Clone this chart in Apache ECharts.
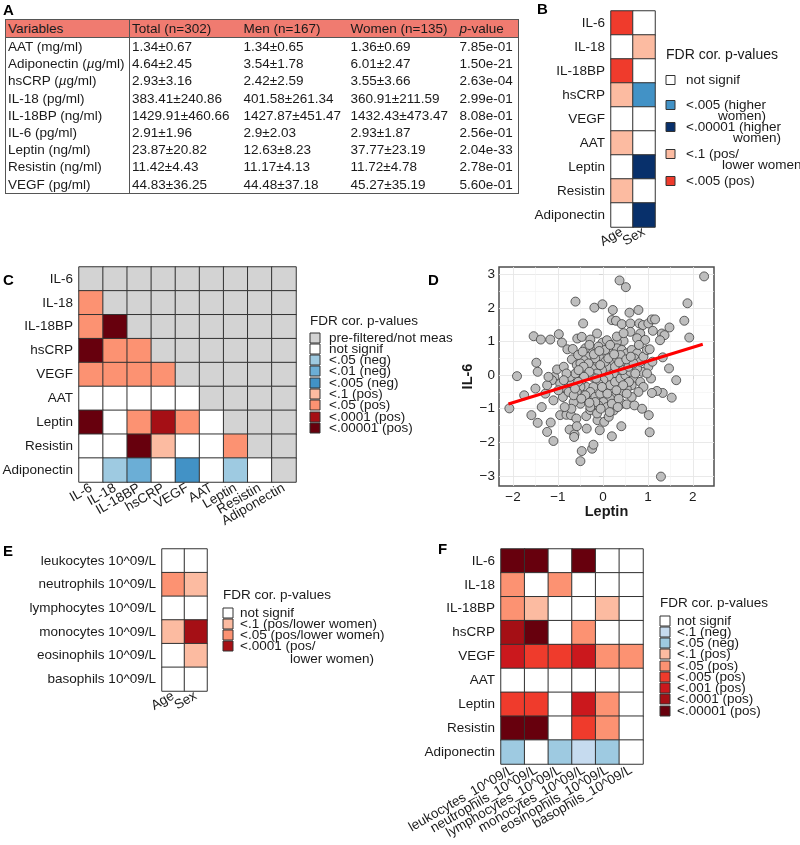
<!DOCTYPE html>
<html>
<head>
<meta charset="utf-8">
<title>index</title>
<script src="https://cdn.jsdelivr.net/npm/echarts@6/dist/echarts.min.js"></script>
<style>
  body { margin: 0; background: #fff; }
  #wrap { position: relative; width: 800px; height: 845px; }
  #main { position: absolute; left: 0; top: 0; width: 800px; height: 845px; }
  #tbl { position: absolute; left: 5px; top: 19px; border-collapse: collapse; table-layout: fixed;
         font-family: 'Liberation Sans', Arial, sans-serif; font-size: 13.5px; color: #1a1a1a;
         border: 1.5px solid #555; }
  #tbl td { padding: 0 0 0 2px; height: 17.2px; line-height: 17px; white-space: nowrap; overflow: hidden; }
  #tbl tr.h td { background: #F07B70; height: 17px; border-bottom: 1px solid #555; }
  #tbl td.first { border-right: 1px solid #555; }
</style>
</head>
<body>
<div id="wrap">
  <div id="main"></div>
  <table id="tbl"></table>
</div>
<script>
// ---- A: table ----
var tblHead = ['Variables', 'Total (n=302)', 'Men (n=167)', 'Women (n=135)', '<i>p</i>-value'];
var tblVars = ['AAT (mg/ml)', 'Adiponectin (<i>µ</i>g/ml)', 'hsCRP (<i>µ</i>g/ml)', 'IL-18 (pg/ml)', 'IL-18BP (ng/ml)',
               'IL-6 (pg/ml)', 'Leptin (ng/ml)', 'Resistin (ng/ml)', 'VEGF (pg/ml)'];
var tblTotal = ['1.34±0.67', '4.64±2.45', '2.93±3.16', '383.41±240.86', '1429.91±460.66', '2.91±1.96', '23.87±20.82', '11.42±4.43', '44.83±36.25'];
var tblMen = ['1.34±0.65', '3.54±1.78', '2.42±2.59', '401.58±261.34', '1427.87±451.47', '2.9±2.03', '12.63±8.23', '11.17±4.13', '44.48±37.18'];
var tblWomen = ['1.36±0.69', '6.01±2.47', '3.55±3.66', '360.91±211.59', '1432.43±473.47', '2.93±1.87', '37.77±23.19', '11.72±4.78', '45.27±35.19'];
var tblP = ['7.85e-01', '1.50e-21', '2.63e-04', '2.99e-01', '8.08e-01', '2.56e-01', '2.04e-33', '2.78e-01', '5.60e-01'];

// ---- heatmaps: level codes per cell ----
var markers = ['IL-6', 'IL-18', 'IL-18BP', 'hsCRP', 'VEGF', 'AAT', 'Leptin', 'Resistin', 'Adiponectin'];
var ageSex = ['Age', 'Sex'];
var bLevels = [
  ['P005', 'W'], ['W', 'P1'], ['P005', 'W'], ['P1', 'N005'], ['W', 'W'],
  ['P1', 'W'], ['W', 'N00001'], ['P1', 'W'], ['W', 'N00001']
];
var cLevels = [
  ['G', 'G', 'G', 'G', 'G', 'G', 'G', 'G', 'G'],
  ['P05', 'G', 'G', 'G', 'G', 'G', 'G', 'G', 'G'],
  ['P05', 'P00001', 'G', 'G', 'G', 'G', 'G', 'G', 'G'],
  ['P00001', 'P05', 'P05', 'G', 'G', 'G', 'G', 'G', 'G'],
  ['P05', 'P05', 'P05', 'P05', 'G', 'G', 'G', 'G', 'G'],
  ['W', 'W', 'W', 'W', 'W', 'G', 'G', 'G', 'G'],
  ['P00001', 'W', 'P05', 'P0001', 'P05', 'W', 'G', 'G', 'G'],
  ['W', 'W', 'P00001', 'P1', 'W', 'W', 'P05', 'G', 'G'],
  ['W', 'N05', 'N01', 'W', 'N005', 'W', 'N05', 'W', 'G']
];
var cells = ['leukocytes 10^09/L', 'neutrophils 10^09/L', 'lymphocytes 10^09/L', 'monocytes 10^09/L', 'eosinophils 10^09/L', 'basophils 10^09/L'];
var eLevels = [['W', 'W'], ['P05', 'P1'], ['W', 'W'], ['P1', 'P0001'], ['W', 'P1'], ['W', 'W']];
var fCols = ['leukocytes_10^09/L', 'neutrophils_10^09/L', 'lymphocytes_10^09/L', 'monocytes_10^09/L', 'eosinophils_10^09/L', 'basophils_10^09/L'];
var fLevels = [
  ['P00001', 'P00001', 'W', 'P00001', 'W', 'W'],
  ['P05', 'W', 'P05', 'W', 'W', 'W'],
  ['P05', 'P1', 'W', 'W', 'P1', 'W'],
  ['P0001', 'P00001', 'W', 'P05', 'W', 'W'],
  ['P001', 'P005', 'P005', 'P001', 'P05', 'P05'],
  ['W', 'W', 'W', 'W', 'W', 'W'],
  ['P005', 'P005', 'W', 'P001', 'P05', 'W'],
  ['P00001', 'P00001', 'W', 'P005', 'P05', 'W'],
  ['N05', 'W', 'N05', 'N1', 'N05', 'W']
];

// ---- D: scatter (standardised Leptin vs IL-6) ----
var leptinIl6 = [
  [2.25,2.94],[0.37,2.82],[0.51,2.62],[-0.61,2.19],[-0.19,2.01],[-0.01,2.11],[1.88,2.14],[1.81,1.62],[1.92,1.12],[0.22,1.94],
  [0.59,1.86],[0.79,1.94],[-0.44,1.54],[-1.54,1.16],[-1.38,1.06],[-1.17,1.06],[-0.98,1.22],[-0.91,0.97],[-0.79,0.77],[-0.67,0.78],
  [-0.57,1.09],[-0.47,1.14],[-0.28,1.06],[-0.13,1.24],[-0.01,0.97],[0.09,1.04],[0.2,1.64],[0.29,1.62],[0.42,1.52],[0.61,1.54],
  [0.81,1.54],[0.89,1.49],[1.01,1.54],[1.09,1.66],[1.16,1.66],[1.31,1.24],[1.37,1.19],[1.48,1.42],[1.27,1.04],[1.11,1.32],
  [0.83,1.24],[0.61,1.29],[0.46,1.02],[0.31,0.99],[-1.91,-0.03],[-1.48,0.37],[-1.45,0.1],[-1.5,-0.4],[-1.75,-0.6],[-2.08,-0.99],
  [-1.36,-0.95],[1.33,0.53],[1.47,0.2],[1.63,-0.15],[1.53,-0.67],[1.33,-0.53],[1.2,-0.47],[1.09,-0.53],[1.01,0.25],[1.1,0.4],
  [0.87,0.1],[0.68,-0.1],[-1.08,-0.05],[-1.02,0.17],[-1.13,-0.15],[-0.87,0.25],[-0.69,0.47],[-0.58,0.3],[-0.89,-0.65],[-1.1,-0.75],
  [-1.28,-0.55],[-0.81,-0.4],[-0.5,-0.53],[-0.37,-0.35],[0.42,-0.85],[0.53,-0.87],[0.7,-0.9],[0.87,-1.0],[1.02,-1.19],
  [-1.59,-1.19],[-1.45,-1.42],[-1.24,-1.69],[-1.16,-1.41],[-1.1,-1.96],[-0.95,-1.19],[-0.81,-1.18],[-0.71,-1.19],[-0.74,-1.62],[-0.63,-1.76],
  [-0.59,-1.29],[-0.58,-1.52],[-0.64,-1.84],[-0.36,-1.59],[-0.37,-1.22],[-0.47,-2.26],[-0.5,-2.56],[-0.24,-2.19],[-0.21,-2.07],[-0.07,-1.64],
  [-0.12,-1.34],[0.03,-1.39],[0.13,-1.24],[0.2,-1.82],[0.24,-1.05],[0.41,-1.52],[1.04,-1.7],[1.29,-3.02],[-0.28,-1.04],[-0.13,-1.14],
  [-0.24,0.8],[-0.28,0.67],[-0.36,0.55],[-0.43,0.45],[-0.5,0.35],[-0.37,0.15],[-0.21,0.25],[-0.12,0.4],[-0.04,0.55],[0.09,0.65],
  [0.2,0.75],[0.31,0.8],[0.42,0.75],[0.53,0.65],[0.64,0.75],[0.76,0.65],[0.7,0.5],[0.57,0.4],[0.46,0.3],[0.35,0.15],
  [0.24,0.05],[0.13,-0.05],[0.01,-0.15],[-0.1,-0.25],[-0.21,-0.35],[-0.28,-0.5],[-0.17,-0.65],[-0.06,-0.55],[0.05,-0.4],[0.16,-0.3],
  [0.27,-0.2],[0.39,-0.1],[0.5,0.0],[0.61,0.1],[0.76,0.2],[0.83,0.4],[0.9,0.55],[0.98,0.75],[0.64,-0.3],[0.53,-0.4],
  [0.42,-0.5],[0.27,-0.6],[0.16,-0.7],[0.01,-0.8],[-0.1,-0.9],[-0.37,-0.75],[-0.5,-0.85],[-0.65,-0.8],[-0.69,-0.25],[-0.73,-0.05],
  [-0.61,0.05],[-0.47,-0.15],[-0.5,-0.35],[-0.58,-0.5],[-0.95,-0.25],[-0.99,-0.45],[-1.24,-0.3],[-1.21,-0.05],[-0.39,0.8],[-0.3,0.9],
  [-0.1,0.85],[0.05,0.75],[0.16,0.9],[0.31,1.15],[0.46,1.25],[0.76,1.1],[0.94,1.05],[1.04,0.77],[1.07,-0.1],[0.98,0.05],
  [0.83,-0.2],[0.9,-0.35],[0.79,-0.5],[0.64,-0.65],[0.2,0.35],[0.09,0.25],[-0.02,0.15],[-0.13,0.05],[-0.24,-0.05],[-0.17,0.5],
  [0.31,0.5],[0.39,0.6],[0.27,0.25],[0.44,0.15],[0.57,0.25],[0.68,0.35],[0.05,0.4],[-0.06,0.3],[-0.32,0.35],[-0.43,0.25],
  [-0.54,0.15],[-0.81,0.05],[-0.87,-0.15],[-0.76,-0.5],[-0.65,-0.6],[-0.39,-0.6],[-0.17,-0.8],[-0.28,-0.95],[0.09,-0.95],[0.2,-0.85],
  [0.35,-0.7],[0.53,-0.55],[-0.55,0.6],[-0.45,0.7],[-0.2,0.62],[-0.08,0.72],[0.12,0.5],[0.25,0.62],[0.36,0.38],[0.52,0.47],
  [0.62,0.55],[0.72,0.05],[0.58,-0.2],[0.45,-0.3],[0.3,-0.45],[0.1,-0.55],[-0.02,-0.35],[-0.15,-0.1],[-0.3,0.1],[-0.42,-0.05],
  [-0.55,-0.2],[-0.62,-0.4],[-0.48,-0.7],[-0.3,-0.82],[-0.05,-1.0],[0.15,-1.1],[0.33,-0.95],[-0.7,-1.0],[-0.85,-0.95],[0.8,0.9]
];
var fitLine = [[-2.1, -0.86], [2.22, 0.92]];
var dXTicks = [-2, -1, 0, 1, 2];
var dYTicks = [-3, -2, -1, 0, 1, 2, 3];
var dXMinor = [-1.5, -0.5, 0.5, 1.5];
var dYMinor = [-2.5, -1.5, -0.5, 0.5, 1.5, 2.5];

var palette = {
  W: '#FFFFFF', G: '#D3D3D3',
  N1: '#C6DBEF', N05: '#9ECAE1', N01: '#6BAED6', N005: '#4292C6', N00001: '#08306B',
  P1: '#FCBBA1', P05: '#FC9272', P005: '#EF3B2C', P001: '#CB181D', P0001: '#A50F15', P00001: '#67000D'
};

// build table
var tbl = document.getElementById('tbl');
var colW = [124, 112, 107, 109, 61];
var html = '<colgroup>' + colW.map(function (w) { return '<col style="width:' + w + 'px">'; }).join('') + '</colgroup>';
html += '<tr class="h">' + tblHead.map(function (h, i) { return '<td' + (i === 0 ? ' class="first"' : '') + '>' + h + '</td>'; }).join('') + '</tr>';
for (var i = 0; i < tblVars.length; i++) {
  html += '<tr><td class="first">' + tblVars[i] + '</td><td>' + tblTotal[i] + '</td><td>' + tblMen[i] +
          '</td><td>' + tblWomen[i] + '</td><td>' + tblP[i] + '</td></tr>';
}
tbl.innerHTML = html;

var font = "'Liberation Sans', Arial, Helvetica, sans-serif";
var txt = '#1a1a1a';
var measureCtx = document.createElement('canvas').getContext('2d');

function hmX(gi, cats, margin) {
  return {
    type: 'category', gridIndex: gi, data: cats,
    axisLine: { show: false }, axisTick: { show: false }, splitLine: { show: false },
    axisLabel: { interval: 0, rotate: 30, margin: margin, fontSize: 13.5, color: txt, fontFamily: font }
  };
}
function hmY(gi, cats) {
  return {
    type: 'category', gridIndex: gi, data: cats, inverse: true,
    axisLine: { show: false }, axisTick: { show: false }, splitLine: { show: false },
    axisLabel: { interval: 0, margin: 6, fontSize: 13.5, color: txt, fontFamily: font }
  };
}
function hmSeries(gi, levels) {
  var data = [];
  levels.forEach(function (row, r) {
    row.forEach(function (lv, c) {
      data.push({ value: [c, r, 1], itemStyle: { color: palette[lv] } });
    });
  });
  return {
    type: 'heatmap', xAxisIndex: gi, yAxisIndex: gi, data: data, silent: true,
    itemStyle: { borderColor: '#333', borderWidth: 1 }, emphasis: { disabled: true }
  };
}

// legend drawn as graphic elements; a second line may be shifted by px or right-aligned to line 1
function legend(x, titleY, title, items, ys, textX, size, lh, fs, tfs) {
  var f = fs + 'px ' + font;
  measureCtx.font = f;
  var els = [{
    type: 'text', x: x, y: titleY,
    style: { text: title, font: tfs + 'px ' + font, fill: txt, verticalAlign: 'middle' }
  }];
  items.forEach(function (it, k) {
    els.push({
      type: 'rect', shape: { x: x, y: ys[k] - size / 2, width: size, height: size },
      style: { fill: palette[it[0]], stroke: '#333', lineWidth: 1 }
    });
    var w1 = measureCtx.measureText(it[1]).width;
    for (var j = 1; j < it.length; j++) {
      var line = it[j], lx = textX, align = 'left';
      if (typeof line === 'object') {
        if (line[1] === 'right') { lx = textX + w1; align = 'right'; } else { lx = textX + line[1]; }
        line = line[0];
      }
      els.push({
        type: 'text', x: lx, y: ys[k] + (j - 1) * lh,
        style: { text: line, font: f, fill: txt, verticalAlign: 'middle', align: align }
      });
    }
  });
  return els;
}

var bLegend = [['W', 'not signif'], ['N005', '<.005 (higher', ['women)', 'right']], ['N00001', '<.00001 (higher', ['women)', 'right']],
               ['P1', '<.1 (pos/', ['lower women)', 36]], ['P005', '<.005 (pos)']];
var cLegend = [['G', 'pre-filtered/not meas'], ['W', 'not signif'], ['N05', '<.05 (neg)'], ['N01', '<.01 (neg)'], ['N005', '<.005 (neg)'],
               ['P1', '<.1 (pos)'], ['P05', '<.05 (pos)'], ['P0001', '<.0001 (pos)'], ['P00001', '<.00001 (pos)']];
var eLegend = [['W', 'not signif'], ['P1', '<.1 (pos/lower women)'], ['P05', '<.05 (pos/lower women)'], ['P0001', '<.0001 (pos/', ['lower women)', 50]]];
var fLegend = [['W', 'not signif'], ['N1', '<.1 (neg)'], ['N05', '<.05 (neg)'], ['P1', '<.1 (pos)'], ['P05', '<.05 (pos)'],
               ['P005', '<.005 (pos)'], ['P001', '<.001 (pos)'], ['P0001', '<.0001 (pos)'], ['P00001', '<.00001 (pos)']];

var graphics = [];
[['A', 3, 3], ['B', 537, 2], ['C', 3, 273], ['D', 428, 273], ['E', 3, 544], ['F', 438, 542]].forEach(function (p) {
  graphics.push({ type: 'text', x: p[1], y: p[2], style: { text: p[0], font: 'bold 15px ' + font, fill: '#000' } });
});
graphics = graphics
  .concat(legend(666, 55, 'FDR cor. p-values', bLegend, [80, 105, 127, 154, 181], 686, 9, 11.5, 13.5, 14))
  .concat(legend(310, 321, 'FDR cor. p-values', cLegend, [338, 349, 360, 371, 383, 394, 405, 417, 428], 329, 10, 12, 13.5, 13.5))
  .concat(legend(223, 595, 'FDR cor. p-values', eLegend, [613, 624, 635, 646], 240, 10, 13, 13.5, 13.5))
  .concat(legend(660, 603, 'FDR cor. p-values', fLegend, [621, 632, 643, 654, 666, 677, 688, 699, 711], 677, 10, 12, 13.5, 13.5));

function minus(v) { return v < 0 ? '\u2212' + (-v) : String(v); }

var gridMarks = [];
dXTicks.forEach(function (v) { gridMarks.push({ xAxis: v, lineStyle: { color: '#E6E6E6', width: 0.9, type: 'solid' } }); });
dYTicks.forEach(function (v) { gridMarks.push({ yAxis: v, lineStyle: { color: '#E6E6E6', width: 0.9, type: 'solid' } }); });
dXMinor.forEach(function (v) { gridMarks.push({ xAxis: v, lineStyle: { color: '#F2F2F2', width: 0.6, type: 'solid' } }); });
dYMinor.forEach(function (v) { gridMarks.push({ yAxis: v, lineStyle: { color: '#F2F2F2', width: 0.6, type: 'solid' } }); });

var option = {
  animation: false,
  textStyle: { fontFamily: font },
  grid: [
    { left: 611, top: 11, width: 44, height: 216, containLabel: false, outerBoundsMode: 'none' },
    { left: 79, top: 267, width: 217, height: 215, containLabel: false, outerBoundsMode: 'none' },
    { left: 499, top: 267, width: 215, height: 219, containLabel: false, outerBoundsMode: 'none',
      show: true, borderColor: '#4d4d4d', borderWidth: 1.5, backgroundColor: 'transparent' },
    { left: 162, top: 549, width: 45, height: 142, containLabel: false, outerBoundsMode: 'none' },
    { left: 501, top: 549, width: 142, height: 215, containLabel: false, outerBoundsMode: 'none' }
  ],
  xAxis: [
    hmX(0, ageSex, 4),
    hmX(1, markers, 5),
    {
      type: 'value', gridIndex: 2, min: -2.31, max: 2.47,
      name: 'Leptin', nameLocation: 'middle', nameGap: 17,
      nameTextStyle: { fontWeight: 'bold', fontSize: 14.5, color: txt, fontFamily: font },
      axisLine: { show: false }, splitLine: { show: false },
      axisTick: { show: true, length: 4, lineStyle: { color: '#333' }, customValues: dXTicks },
      axisLabel: { customValues: dXTicks, formatter: minus, fontSize: 13.5, color: txt, margin: 4, fontFamily: font }
    },
    hmX(3, ageSex, 4),
    hmX(4, fCols, 5)
  ],
  yAxis: [
    hmY(0, markers),
    hmY(1, markers),
    {
      type: 'value', gridIndex: 2, min: -3.3, max: 3.22,
      name: 'IL-6', nameLocation: 'middle', nameGap: 18, nameRotate: 90,
      nameTextStyle: { fontWeight: 'bold', fontSize: 14.5, color: txt, fontFamily: font },
      axisLine: { show: false }, splitLine: { show: false },
      axisTick: { show: true, length: 4, lineStyle: { color: '#333' }, customValues: dYTicks },
      axisLabel: { customValues: dYTicks, formatter: minus, fontSize: 13.5, color: txt, margin: 4, fontFamily: font }
    },
    hmY(3, cells),
    hmY(4, markers)
  ],
  graphic: graphics,
  series: [
    hmSeries(0, bLevels),
    hmSeries(1, cLevels),
    hmSeries(3, eLevels),
    hmSeries(4, fLevels),
    {
      type: 'scatter', xAxisIndex: 2, yAxisIndex: 2, data: [], silent: true, z: 1,
      markLine: { silent: true, symbol: 'none', label: { show: false }, z: 1, data: gridMarks }
    },
    {
      type: 'scatter', xAxisIndex: 2, yAxisIndex: 2, data: leptinIl6, symbolSize: 9, z: 3, silent: true,
      itemStyle: { color: '#BEBEBE', borderColor: '#3c3c3c', borderWidth: 0.8, opacity: 1 }
    },
    {
      type: 'line', xAxisIndex: 2, yAxisIndex: 2, data: fitLine, symbol: 'none', z: 4, silent: true,
      lineStyle: { color: '#FF0000', width: 3 }
    }
  ]
};
var chart = echarts.init(document.getElementById('main'));
chart.setOption(option);
</script>
</body>
</html>
